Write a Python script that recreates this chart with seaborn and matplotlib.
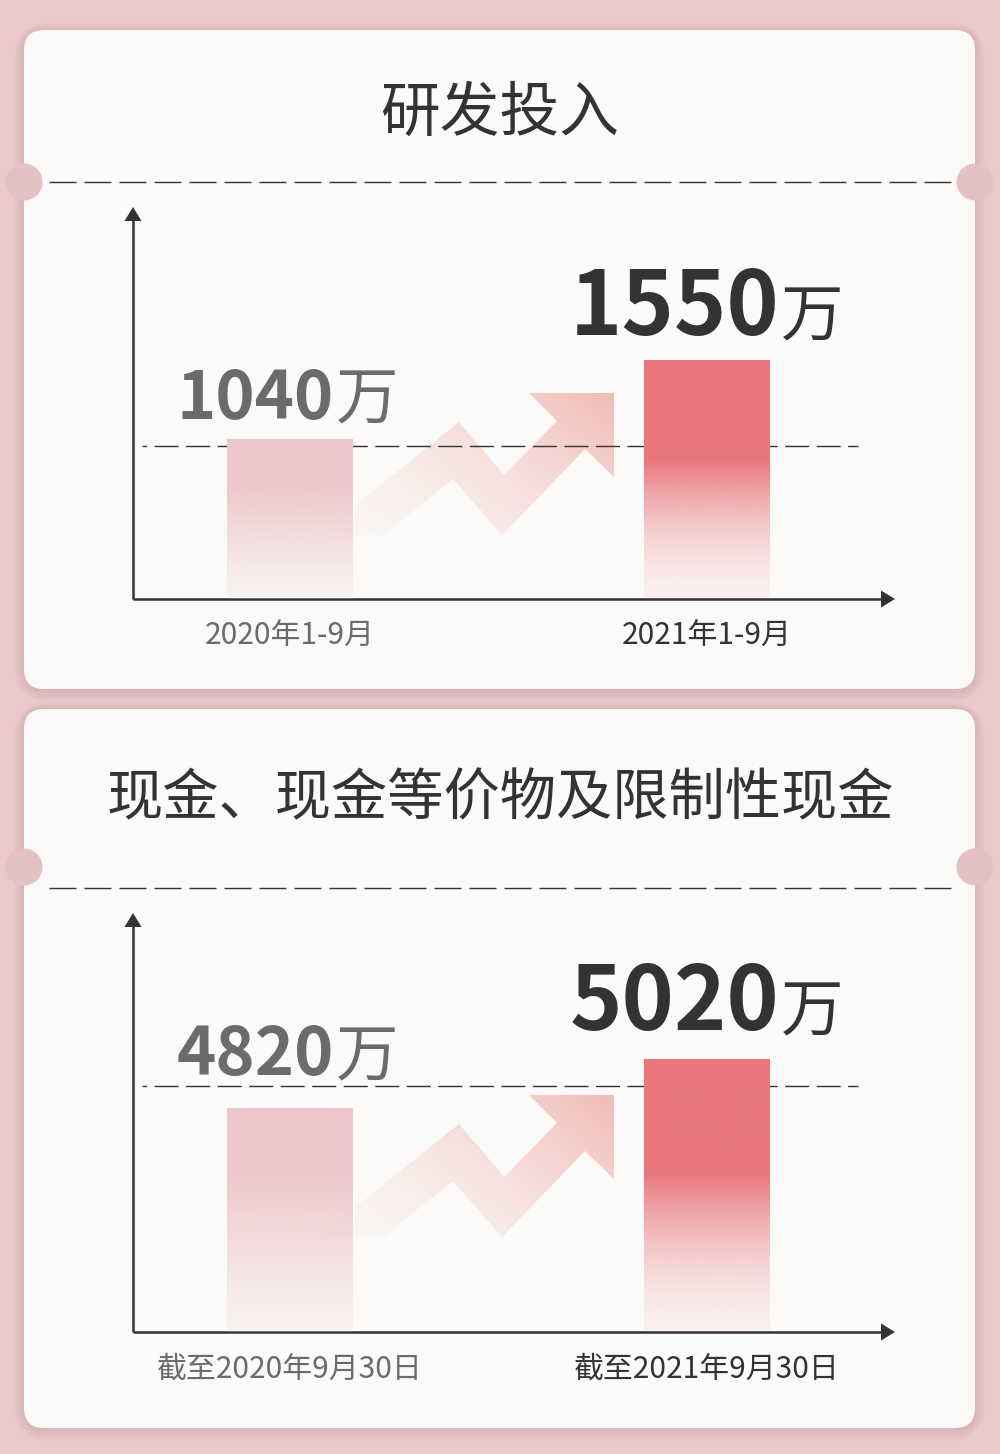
import numpy as np
import matplotlib
matplotlib.use("Agg")
import matplotlib.pyplot as plt
import seaborn as sns
from matplotlib.patches import FancyBboxPatch, Circle, Polygon

# ---- data ----
titles = ["研发投入", "现金、现金等价物及限制性现金"]
periods_rd = ["2020年1-9月", "2021年1-9月"]
values_rd = [1040, 1550]
periods_cash = ["截至2020年9月30日", "截至2021年9月30日"]
values_cash = [4820, 5020]
ref_values = [992, 4910]          # dashed guide line in each panel
ylims = [(0, 2542), (3906, 5616)]
unit = "万"

# ---- layout (pixels on a 1000 x 1454 canvas) ----
W, H = 1000, 1454
PAGE = "#EBC8CB"
CARD = "#FBFAF8"
DARK = "#333333"
GREY = "#6B6B6B"
panels = [
    dict(card=(30, 689), title_y=114, title_fs=43, sep_y=182, notch_y=182,
         ax_top=207, ax_bot=599, arrow_dy=0, rise=(20, 25)),
    dict(card=(709, 1428), title_y=800, title_fs=40.5, sep_y=888, notch_y=867,
         ax_top=913, ax_bot=1332, arrow_dy=702, rise=(33, 29)),
]
AX_L, AX_R = 133, 895
XLIM = (-0.3765, 1.4508)
BAR_W = 0.302
zigzag = [(318, 535), (459, 422), (504, 475), (557, 421), (529, 393), (614, 393),
          (614, 477), (585, 449), (502, 535), (453, 479), (383, 535)]

sns.set_theme(style="white")
FONT = ["Noto Sans CJK SC", "DejaVu Sans"]
plt.rcParams["font.family"] = FONT

fig = plt.figure(figsize=(W / 100, H / 100), dpi=100)
fig.patch.set_facecolor(PAGE)
bg = fig.add_axes([0, 0, 1, 1])
bg.set_xlim(0, W)
bg.set_ylim(H, 0)
bg.axis("off")


def px2pt(v):
    return v * 72 / 100


def gradient_bar(ax, patch, rgb, solid, floor, power, ymin):
    x, w = patch.get_x(), patch.get_width()
    top = patch.get_y() + patch.get_height()
    bottom = max(ymin, patch.get_y())
    n = 300
    t = np.linspace(0, 1, n)[:, None]
    s = np.clip((t - solid) / (1 - solid), 0, 1)
    f = 1 - (1 - s) ** power
    img = np.zeros((n, 1, 4))
    img[..., :3] = np.array(rgb) / 255
    img[..., 3] = 1 - (1 - floor) * f
    im = ax.imshow(img, extent=(x, x + w, bottom, top), origin="upper",
                   aspect="auto", zorder=2, interpolation="bilinear")
    im.set_clip_path(patch)
    patch.set_facecolor("none")
    patch.set_edgecolor("none")


def draw_card(p):
    y0, y1 = p["card"]
    # soft shadow
    for k in range(10):
        pad = 2 + k * 1.6
        bg.add_patch(FancyBboxPatch((24 - pad * 0.6, y0 - pad * 0.4), 951 + pad * 1.2,
                                    (y1 - y0) + pad * 1.2,
                                    boxstyle=f"round,pad=0,rounding_size={20 + pad}",
                                    fc="#C99CA2", ec="none", alpha=0.045, zorder=1))
    bg.add_patch(FancyBboxPatch((24, y0), 951, y1 - y0,
                                boxstyle="round,pad=0,rounding_size=20",
                                fc=CARD, ec="none", zorder=2))
    for cx in (24, 975):
        bg.add_patch(Circle((cx, p["notch_y"]), 18.5, fc="#E4C1C4", ec="none", zorder=3))
    bg.plot([49, 955], [p["sep_y"]] * 2, color=DARK, lw=1.0,
            dashes=(19.4, 5.8), zorder=3, solid_capstyle="butt")


def draw_zigzag(dy):
    pts = [(x, y + dy) for x, y in zigzag]
    xs = [q[0] for q in pts]
    ys = [q[1] for q in pts]
    x0, x1, y0, y1 = min(xs), max(xs), min(ys), max(ys)
    poly = Polygon(pts, closed=True, fc="none", ec="none", zorder=3)
    bg.add_patch(poly)
    nx, ny = 200, 120
    gx = np.linspace(0, 1, nx)[None, :]
    gy = np.linspace(0, 1, ny)[:, None]      # 0 = top
    s = np.clip(0.62 * gx + 0.38 * (1 - gy), 0, 1)
    img = np.zeros((ny, nx, 4))
    img[..., :3] = np.array([238, 166, 160]) / 255
    img[..., 3] = 0.03 + 0.72 * s ** 1.6
    im = bg.imshow(img, extent=(x0, x1, y1, y0), origin="upper",
                   aspect="auto", zorder=3, interpolation="bilinear")
    im.set_clip_path(poly)


def draw_axes_lines(p):
    top, bot = p["ax_top"], p["ax_bot"]
    bg.plot([AX_L, AX_L], [bot, top + 12], color=DARK, lw=1.8, zorder=4,
            solid_capstyle="butt")
    bg.plot([AX_L, AX_R - 12], [bot, bot], color=DARK, lw=1.8, zorder=4,
            solid_capstyle="butt")
    bg.add_patch(Polygon([(AX_L, top), (AX_L - 8.5, top + 14), (AX_L + 8.5, top + 14)],
                         fc=DARK, ec="none", zorder=4))
    bg.add_patch(Polygon([(AX_R, bot), (AX_R - 14, bot - 8.5), (AX_R - 14, bot + 8.5)],
                         fc=DARK, ec="none", zorder=4))


datasets = [(periods_rd, values_rd), (periods_cash, values_cash)]
bar_styles = [
    dict(rgb=(237, 199, 203), solid=0.30, floor=0.15, power=1.2),
    dict(rgb=(233, 119, 126), solid=0.42, floor=0.08, power=1.7),
]

for i, (p, (periods, values)) in enumerate(zip(panels, datasets)):
    draw_card(p)
    bg.text(W / 2, p["title_y"], titles[i], ha="center", va="center",
            fontsize=p["title_fs"], color=DARK, family=FONT, zorder=5)
    draw_zigzag(p["arrow_dy"])

    top, bot = p["ax_top"], p["ax_bot"]
    ax = fig.add_axes([AX_L / W, 1 - bot / H, (AX_R - AX_L) / W, (bot - top) / H])
    ax.patch.set_alpha(0)
    sns.barplot(x=periods, y=values, ax=ax, width=BAR_W, color="#E9777E",
                errorbar=None, zorder=2)
    ax.set_xlim(*XLIM)
    ax.set_ylim(*ylims[i])
    ax.axhline(ref_values[i], xmin=(142 - AX_L) / (AX_R - AX_L),
               xmax=(858 - AX_L) / (AX_R - AX_L), color=DARK, lw=1.0,
               ls=(14, (17.3, 5.4)), zorder=1)

    for j, patch in enumerate(ax.patches):
        st = bar_styles[j]
        gradient_bar(ax, patch, st["rgb"], st["solid"], st["floor"], st["power"],
                     ylims[i][0])

    for j, v in enumerate(values):
        big = j == 1
        dx = px2pt(72 if big else 44)
        dy = px2pt(p["rise"][j])
        col = DARK if big else GREY
        ax.annotate(f"{v}", xy=(j, v), xytext=(dx, dy), textcoords="offset points",
                    ha="right", va="baseline", fontsize=64 if big else 48,
                    fontweight="bold", color=col, family=FONT, zorder=6)
        ax.annotate(unit, xy=(j, v), xytext=(dx + 1, dy), textcoords="offset points",
                    ha="left", va="baseline", fontsize=45, color=col,
                    family=FONT, zorder=6)

    ax.set_xlim(*XLIM)
    ax.set_ylim(*ylims[i])
    ax.set_yticks([])
    ax.set_xlabel("")
    ax.set_ylabel("")
    ax.tick_params(axis="x", length=0, pad=15.5, labelsize=21.5)
    for j, lab in enumerate(ax.get_xticklabels()):
        lab.set_color(DARK if j == 1 else GREY)
        lab.set_family(FONT)
    sns.despine(ax=ax, left=True, bottom=True)

    draw_axes_lines(p)

fig.savefig("out.png", dpi=100, facecolor=PAGE)
